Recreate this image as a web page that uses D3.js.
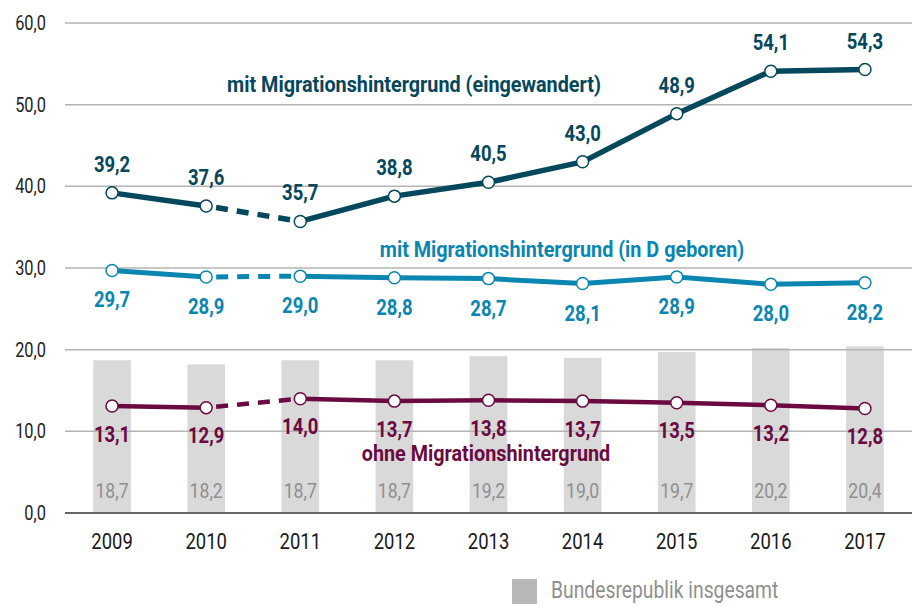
<!DOCTYPE html>
<html>
<head>
<meta charset="utf-8">
<script src="https://cdn.jsdelivr.net/npm/d3@7"></script>
<style>
	body { margin: 0; background: #fff; }
	svg { display: block; font-family: Roboto, "Liberation Sans", sans-serif; }
	.grid line { stroke: #b4b4b4; stroke-width: 1.5; }
	.grid .zero { stroke: #666; stroke-width: 2; }
</style>
</head>
<body>
<script>
(function() {

"use strict";

const YEARS = ["2009", "2010", "2011", "2012", "2013", "2014", "2015", "2016", "2017"];

const EINGEWANDERT = [39.2, 37.6, 35.7, 38.8, 40.5, 43.0, 48.9, 54.1, 54.3];
const IN_D_GEBOREN = [29.7, 28.9, 29.0, 28.8, 28.7, 28.1, 28.9, 28.0, 28.2];
const OHNE         = [13.1, 12.9, 14.0, 13.7, 13.8, 13.7, 13.5, 13.2, 12.8];
const INSGESAMT    = [18.7, 18.2, 18.7, 18.7, 19.2, 19.0, 19.7, 20.2, 20.4];

const Y_TICKS = [0, 10, 20, 30, 40, 50, 60];

const fmt = v => v.toFixed(1).replace(".", ",");

// no condensed font available, so squeeze text horizontally
const SX = 0.84;
const place = (px, py, sx = SX) => `translate(${px},${py}) scale(${sx},1)`;

const width = 912, height = 606;
const margin = {top: 23, right: 0, bottom: 93, left: 65};

let x = d3.scaleBand().domain(YEARS).range([margin.left, width - margin.right]).paddingInner(0.6).paddingOuter(0.3);
let y = d3.scaleLinear().domain([0, 60]).range([height - margin.bottom, margin.top]);
let cx = d => x(d) + x.bandwidth() / 2;

let svg = d3.select("body").append("svg")
	.attr("width", width)
	.attr("height", height);

// bars
svg.append("g").selectAll("rect")
	.data(INSGESAMT)
	.join("rect")
		.attr("x", (d, i) => x(YEARS[i]))
		.attr("y", d => y(d))
		.attr("width", x.bandwidth())
		.attr("height", d => y(0) - y(d) - 1)
		.attr("fill", "#d9d9d9");

svg.append("g").selectAll("text")
	.data(INSGESAMT)
	.join("text")
		.attr("transform", (d, i) => place(cx(YEARS[i]), y(0) - 15))
		.attr("text-anchor", "middle")
		.attr("font-size", 21)
		.attr("fill", "#8f8f8f")
		.text(fmt);

// gridlines
let grid = svg.append("g").attr("class", "grid");
grid.selectAll("line")
	.data(Y_TICKS)
	.join("line")
		.attr("class", d => d === 0 ? "zero" : null)
		.attr("x1", margin.left)
		.attr("x2", width)
		.attr("y1", d => y(d))
		.attr("y2", d => y(d));

// y tick labels
svg.append("g").selectAll("text")
	.data(Y_TICKS)
	.join("text")
		.attr("transform", d => place(46, y(d) + 7))
		.attr("text-anchor", "end")
		.attr("font-size", 19.5)
		.attr("fill", "#222")
		.text(fmt);

// x labels
svg.append("g").selectAll("text")
	.data(YEARS)
	.join("text")
		.attr("transform", d => place(cx(d), y(0) + 36))
		.attr("text-anchor", "middle")
		.attr("font-size", 22)
		.attr("fill", "#1a1a1a")
		.text(d => d);

function drawSeries(values, options) {
	let pts = values.map((v, i) => [cx(YEARS[i]), y(v)]);
	let line = d3.line();
	let g = svg.append("g");

	// solid parts, dashed gap 2010-2011
	[pts.slice(0, 2), pts.slice(2)].forEach(seg => {
		g.append("path")
			.attr("d", line(seg))
			.attr("fill", "none")
			.attr("stroke", options.color)
			.attr("stroke-width", options.width)
			.attr("stroke-linejoin", "round");
	});
	g.append("path")
		.attr("d", line(pts.slice(1, 3)))
		.attr("fill", "none")
		.attr("stroke", options.color)
		.attr("stroke-width", options.width)
		.attr("stroke-dasharray", "12,9")
		.attr("stroke-dashoffset", -10);

	g.selectAll("circle")
		.data(pts)
		.join("circle")
			.attr("cx", d => d[0])
			.attr("cy", d => d[1])
			.attr("r", 6)
			.attr("fill", "#fff")
			.attr("stroke", options.color)
			.attr("stroke-width", 1.5);

	g.selectAll("text.val")
		.data(values)
		.join("text")
			.attr("class", "val")
			.attr("transform", (d, i) => place(pts[i][0], pts[i][1] + options.dy))
			.attr("text-anchor", "middle")
			.attr("font-size", 22)
			.attr("font-weight", "bold")
			.attr("fill", options.color)
			.text(fmt);

	g.append("text")
		.attr("transform", place(options.label.x, options.label.y, 0.88))
		.attr("text-anchor", "middle")
		.attr("font-size", 22.5)
		.attr("font-weight", "bold")
		.attr("fill", options.color)
		.text(options.label.text);
}

drawSeries(OHNE, {
	color: "#6b0a41",
	width: 4.5,
	dy: 35.5,
	label: {x: 486, y: 461, text: "ohne Migrationshintergrund"},
});

drawSeries(IN_D_GEBOREN, {
	color: "#0a86b1",
	width: 5,
	dy: 37,
	label: {x: 562, y: 257, text: "mit Migrationshintergrund (in D geboren)"},
});

drawSeries(EINGEWANDERT, {
	color: "#05475c",
	width: 5.5,
	dy: -21,
	label: {x: 414, y: 92, text: "mit Migrationshintergrund (eingewandert)"},
});

// legend
let legend = svg.append("g").attr("transform", "translate(512, 579)");
legend.append("rect")
	.attr("width", 25)
	.attr("height", 25)
	.attr("fill", "#b8b8b8");
legend.append("text")
	.attr("transform", `translate(39,19) scale(${SX},1)`)
	.attr("font-size", 23)
	.attr("fill", "#8f8f8f")
	.text("Bundesrepublik insgesamt");

})();
</script>
</body>
</html>
